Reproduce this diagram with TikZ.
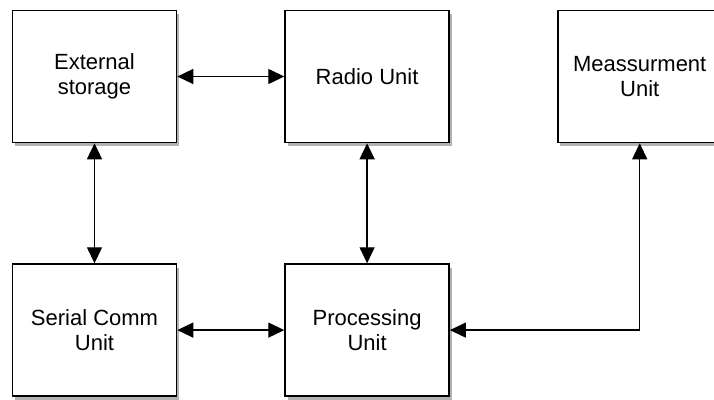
\documentclass[tikz,border=0pt]{standalone}
\usepackage{fontspec}
\setmainfont{Liberation Sans}
\usetikzlibrary{arrows.meta,positioning,shadows}
\definecolor{linegray}{HTML}{000000}
\tikzset{
  unit/.style={
    draw=linegray,
    line width=1.6pt,
    minimum width=164pt,
    minimum height=132pt,
    align=center,
    font=\fontsize{22}{25}\selectfont,
    fill=white,
    drop shadow={shadow xshift=2.5pt, shadow yshift=-3.5pt, fill=black!30, opacity=1}
  },
  link/.style={{Triangle[length=16pt,width=15pt]}-{Triangle[length=16pt,width=15pt]}, line width=1.3pt, draw=linegray}
}
\begin{document}
\begin{tikzpicture}[node distance=120pt and 107pt]
\useasboundingbox (0,0) rectangle (714pt,-399pt);

\node[unit] (storage) at (94.5pt,-76.5pt) {External\\storage};
\node[unit, right=of storage] (radio) {Radio Unit};
\node[unit, right=of radio] (meas) {Meassurment\\Unit};
\node[unit, below=of storage] (serial) {Serial Comm\\Unit};
\node[unit, below=of radio] (proc) {Processing\\Unit};

% Links
\draw[link] (storage) -- (radio);
\draw[link] (storage) -- (serial);
\draw[link] (radio) -- (proc);
\draw[link] (serial) -- (proc);
\draw[link] (proc.east) -| (meas.south);

\end{tikzpicture}
\end{document}
